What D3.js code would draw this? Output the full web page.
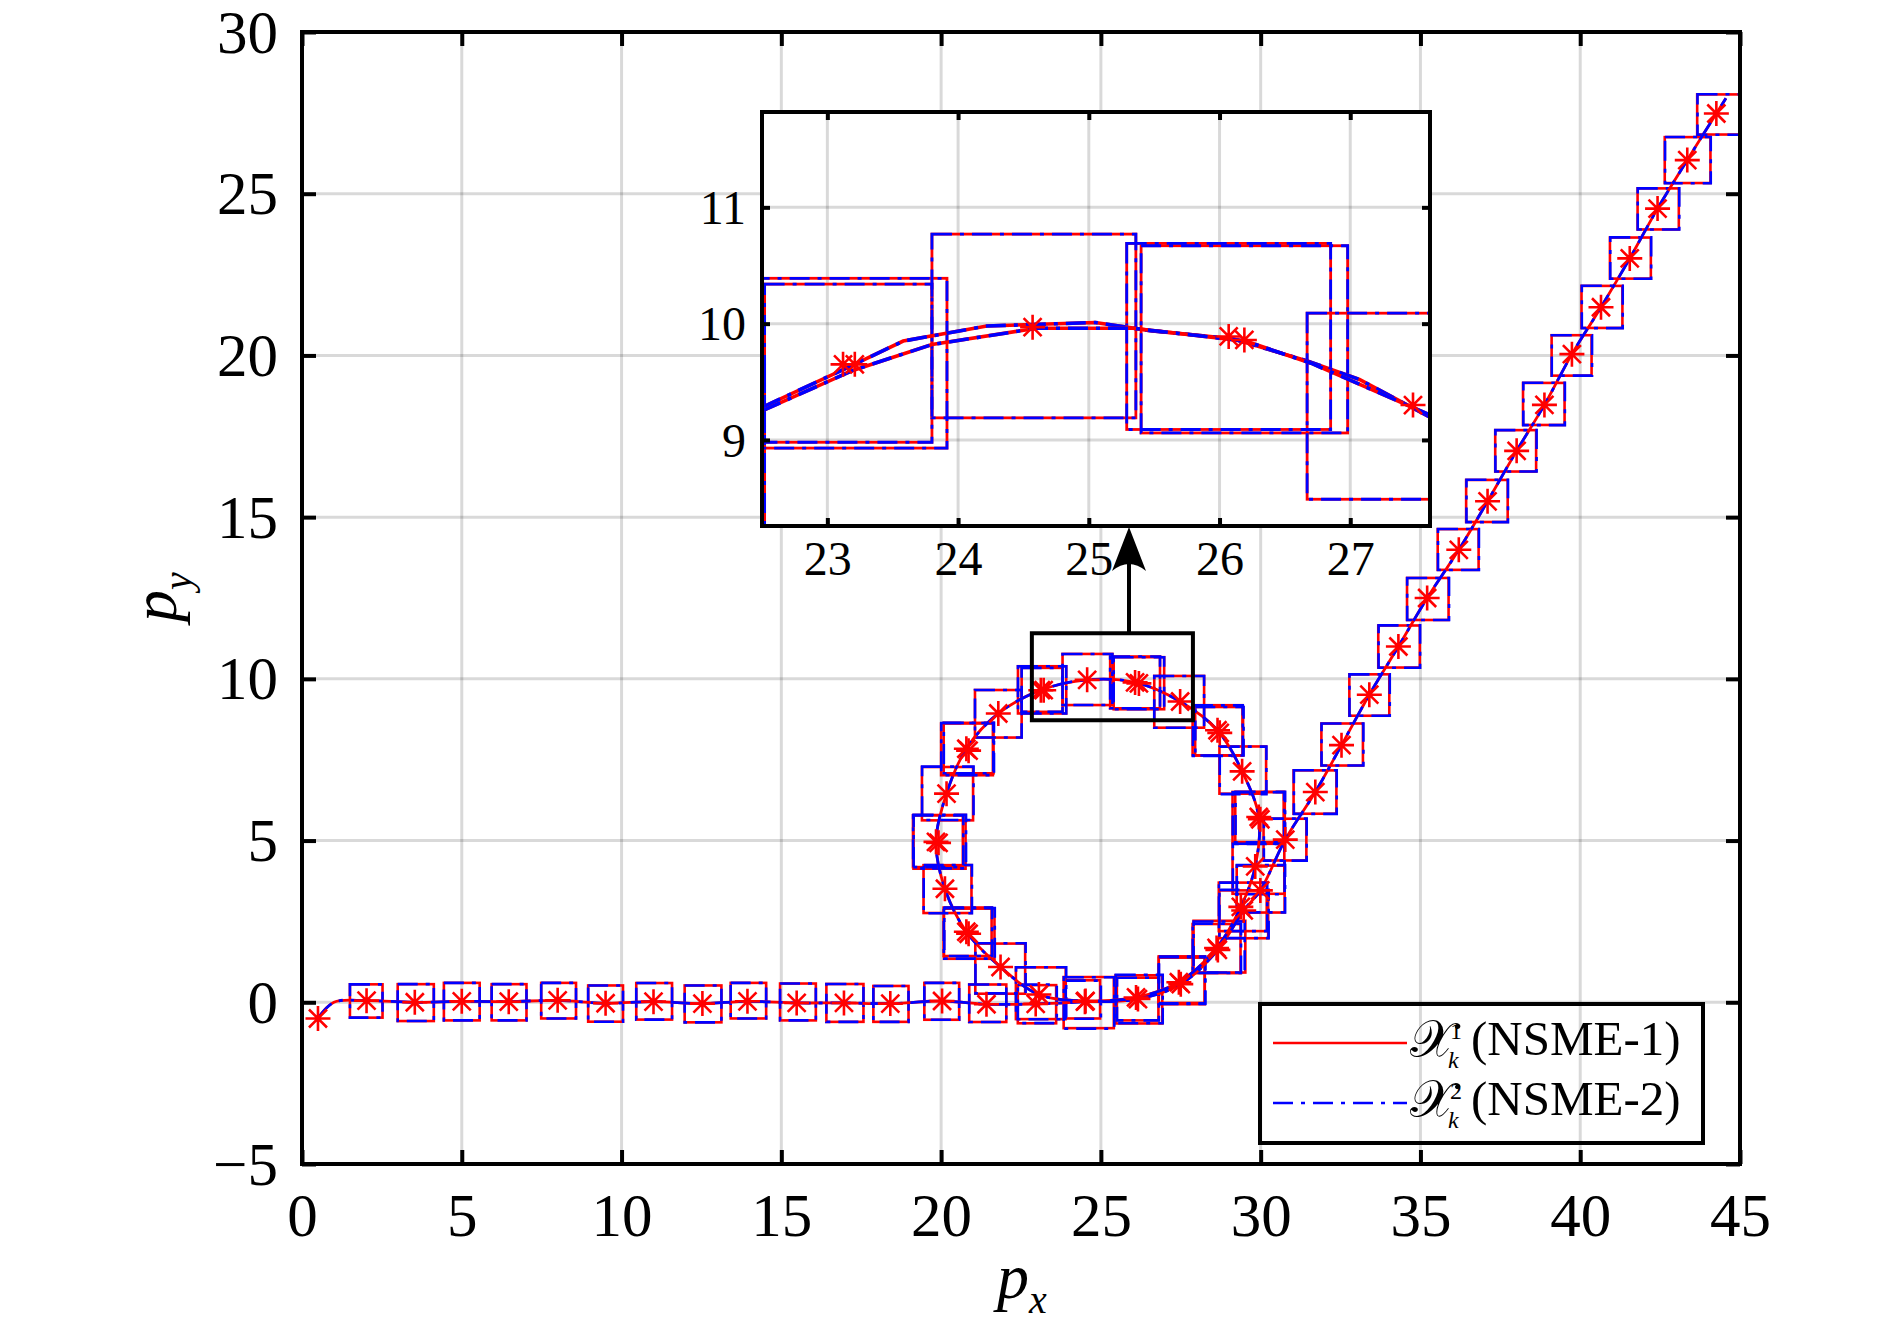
<!DOCTYPE html>
<html><head><meta charset="utf-8">
<script src="https://cdn.jsdelivr.net/npm/d3@7"></script>
<style>
body{margin:0;background:#fff}
svg{display:block}
text{font-family:"Liberation Serif","Times New Roman",serif;fill:#000}
</style>
</head><body>
<svg id="c" width="1890" height="1329"></svg>
<script>
// ---------------- DATA ----------------
const xTicks = [0,5,10,15,20,25,30,35,40,45];
const yTicks = [-5,0,5,10,15,20,25,30];
const insetXTicks = [23,24,25,26,27];
const insetYTicks = [9,10,11];
const insetXDomain = [22.5, 27.61];
const insetYDomain = [8.26, 11.82];
const zoomRect = [22.84, 27.88, 8.72, 11.41]; // xmin,xmax,ymin,ymax
const arrowX = 25.88;
const legendLabels = ["(NSME-1)", "(NSME-2)"];
const legendSup = ["1", "2"];

// marker (asterisk) positions
const starX = [0.50,2.02,3.53,5.00,6.47,8.00,9.50,11.00,12.53,13.94,15.48,16.96,18.41,20.03,21.42,22.96,
  24.50,26.10,27.44,28.62,29.38,29.83,29.94,29.42,28.65,27.48,26.07,24.57,23.12,21.79,20.79,20.17,19.84,20.12,20.79,21.86,23.06,
  24.52,26.16,27.50,28.66,29.47,29.99,
  30.77,31.71,32.53,33.40,34.31,35.21,36.20,37.10,38.01,38.88,39.74,40.65,41.55,42.42,43.35,44.26,
  23.21,26.19,28.72,20.86,19.92,20.86,29.99];
const starY = [-0.50,0.05,0.00,0.03,0.02,0.06,-0.03,0.02,-0.04,0.03,-0.02,-0.02,-0.04,0.04,-0.06,-0.05,
  0.02,0.15,0.62,1.68,2.95,4.20,5.73,7.14,8.41,9.30,9.89,9.97,9.65,8.93,7.84,6.45,4.96,3.51,2.18,1.09,0.24,
  0.04,0.10,0.56,1.62,2.84,3.46,
  5.03,6.50,7.95,9.51,11.00,12.50,13.99,15.49,17.05,18.47,20.04,21.49,23.00,24.54,26.04,27.48,
  9.65,9.86,8.33,7.78,4.93,2.12,5.66];

// set X^1 (NSME-1) boxes: [cx, cy, width, height]
const box1 = [null,
  [2.01,0.04,1.02,1.03],[3.56,-0.01,1.13,1.14],[5.00,0.02,1.12,1.16],[6.48,0.00,1.09,1.12],[8.03,0.05,1.09,1.10],
  [9.50,-0.04,1.09,1.12],[11.02,0.03,1.12,1.13],[12.55,-0.05,1.15,1.14],[13.97,0.05,1.11,1.10],[15.52,0.01,1.12,1.14],
  [16.99,-0.02,1.16,1.17],[18.43,-0.05,1.10,1.11],[20.02,0.03,1.09,1.14],[21.46,-0.03,1.16,1.16],[23.00,-0.06,1.20,1.18],
  [24.43,0.09,1.09,1.18],[26.15,0.10,1.30,1.32],[27.53,0.70,1.44,1.44],[28.71,1.72,1.62,1.60],[29.44,2.95,1.50,1.50],
  [29.93,4.13,1.62,1.55],[29.92,5.73,1.60,1.55],[29.44,7.18,1.46,1.46],[28.65,8.41,1.56,1.55],[27.45,9.29,1.56,1.60],
  [26.07,9.89,1.56,1.60],[24.58,9.98,1.56,1.58],[23.16,9.66,1.51,1.46],[21.79,8.92,1.46,1.47],[20.81,7.82,1.62,1.60],
  [20.20,6.45,1.60,1.65],[19.95,4.96,1.63,1.66],[20.20,3.50,1.50,1.48],[20.88,2.12,1.58,1.55],[21.85,1.04,1.56,1.55],
  [23.12,0.28,1.56,1.60],[24.62,-0.01,1.57,1.58],[26.19,0.09,1.46,1.49],[27.53,0.66,1.44,1.44],[28.62,1.66,1.50,1.52],
  [29.47,2.72,1.53,1.48],[30.00,3.50,1.50,1.45],[30.76,5.03,1.34,1.29],[31.70,6.50,1.34,1.34],[32.55,7.97,1.30,1.30],
  [33.40,9.50,1.25,1.28],[34.33,11.00,1.30,1.30],[35.23,12.47,1.30,1.30],[36.18,14.00,1.28,1.26],[37.08,15.50,1.30,1.30],
  [37.98,17.05,1.28,1.28],[38.86,18.50,1.30,1.30],[39.73,20.00,1.25,1.25],[40.68,21.50,1.28,1.30],[41.57,23.01,1.28,1.27],
  [42.44,24.53,1.29,1.27],[43.36,26.04,1.43,1.42],[44.36,27.45,1.40,1.24],
  [23.16,9.66,1.28,1.36],[26.19,9.865,1.58,1.61],[28.70,8.38,1.50,1.50],[20.86,7.86,1.56,1.56],[19.90,4.98,1.56,1.60],
  [20.83,2.18,1.50,1.50],[29.98,5.70,1.55,1.60]];

// set X^2 (NSME-2) boxes: [cx, cy, width, height]
const box2 = [null,
  [2.01,0.04,1.02,1.03],[3.56,-0.01,1.13,1.14],[5.00,0.02,1.12,1.16],[6.48,0.00,1.09,1.12],[8.03,0.05,1.09,1.10],
  [9.50,-0.04,1.09,1.12],[11.02,0.03,1.12,1.13],[12.55,-0.05,1.15,1.14],[13.97,0.05,1.11,1.10],[15.52,0.01,1.12,1.14],
  [16.99,-0.02,1.16,1.17],[18.43,-0.05,1.10,1.11],[20.02,0.03,1.09,1.14],[21.46,-0.03,1.16,1.16],[23.01,-0.05,1.22,1.19],
  [24.45,0.08,1.10,1.18],[26.16,0.10,1.31,1.32],[27.54,0.69,1.45,1.45],[28.70,1.71,1.60,1.58],[29.45,2.95,1.51,1.50],
  [29.94,4.12,1.62,1.56],[29.93,5.72,1.61,1.55],[29.45,7.17,1.46,1.47],[28.66,8.40,1.56,1.56],[27.45,9.29,1.56,1.60],
  [26.07,9.89,1.56,1.60],[24.58,9.98,1.56,1.58],[23.16,9.66,1.51,1.46],[21.79,8.92,1.46,1.47],[20.82,7.83,1.63,1.61],
  [20.21,6.46,1.61,1.65],[19.96,4.97,1.64,1.66],[20.21,3.50,1.51,1.49],[20.89,2.13,1.58,1.56],[21.86,1.05,1.57,1.55],
  [23.13,0.28,1.57,1.61],[24.63,-0.02,1.58,1.59],[26.20,0.10,1.47,1.50],[27.54,0.67,1.45,1.45],[28.63,1.67,1.51,1.52],
  [29.48,2.73,1.54,1.49],[30.01,3.51,1.51,1.46],[30.77,5.03,1.34,1.30],[31.71,6.50,1.34,1.35],[32.56,7.97,1.31,1.30],
  [33.41,9.50,1.26,1.28],[34.34,11.00,1.30,1.31],[35.24,12.47,1.31,1.30],[36.19,14.00,1.28,1.27],[37.09,15.50,1.30,1.31],
  [37.99,17.05,1.29,1.28],[38.87,18.50,1.30,1.31],[39.74,20.00,1.26,1.25],[40.69,21.50,1.28,1.31],[41.58,23.01,1.28,1.28],
  [42.45,24.53,1.30,1.27],[43.37,26.04,1.43,1.43],[44.37,27.45,1.40,1.25],
  [23.16,9.66,1.28,1.36],[26.19,9.865,1.58,1.61],[28.71,8.38,1.51,1.50],[20.87,7.86,1.57,1.56],[19.91,4.98,1.57,1.60],
  [20.84,2.18,1.51,1.50],[29.99,5.70,1.55,1.61]];

// trajectory vertices (main panel)
const pathX = [0.50,1.00,2.02,3.53,5.00,6.47,8.00,9.50,11.00,12.53,13.94,15.48,16.96,18.41,20.03,21.42,22.96,
  24.50,26.10,27.44,28.62,29.38,29.83,29.94,29.42,28.65,27.48,26.07,24.57,23.12,21.79,20.79,20.17,19.84,20.12,20.79,21.86,23.06,
  24.52,26.16,27.50,28.66,29.47,29.99,
  30.77,31.71,32.53,33.40,34.31,35.21,36.20,37.10,38.01,38.88,39.74,40.65,41.55,42.42,43.35,44.26,44.56];
const pathY = [-0.50,0.00,0.05,0.00,0.03,0.02,0.06,-0.03,0.02,-0.04,0.03,-0.02,-0.02,-0.04,0.04,-0.06,-0.05,
  0.02,0.15,0.62,1.68,2.95,4.20,5.73,7.14,8.41,9.30,9.89,9.97,9.65,8.93,7.84,6.45,4.96,3.51,2.18,1.09,0.24,
  0.04,0.10,0.56,1.62,2.84,3.46,
  5.03,6.50,7.95,9.51,11.00,12.50,13.99,15.49,17.05,18.47,20.04,21.49,23.00,24.54,26.04,27.48,27.95];

// trajectory polylines seen in the magnified inset
const insetLine1X = [22.50,23.15,23.58,24.22,25.05,25.47,26.10,26.67,27.07,27.62];
const insetLine1Y = [9.28,9.62,9.85,9.98,10.01,9.94,9.87,9.68,9.52,9.19];
const insetLine2X = [22.50,23.20,23.80,24.60,25.34,26.20,26.70,27.62];
const insetLine2Y = [9.25,9.60,9.82,9.96,9.96,9.85,9.66,9.21];

// ---------------- DRAWING ----------------
const RED = "#ff0000", BLUE = "#0000ff";
const DASHDOT = "20,8,4,8";
const svg = d3.select("#c");
const M = {l:302, r:1740, t:32, b:1164};
const I = {l:762, r:1430, t:112, b:526};
const x = d3.scaleLinear([0,45],[M.l,M.r]);
const y = d3.scaleLinear([-5,30],[M.b,M.t]);
const xi = d3.scaleLinear(insetXDomain,[I.l,I.r]);
const yi = d3.scaleLinear(insetYDomain,[I.b,I.t]);

const defs = svg.append("defs");
defs.append("clipPath").attr("id","clipMain").append("rect")
  .attr("x",M.l).attr("y",M.t).attr("width",M.r-M.l).attr("height",M.b-M.t);
defs.append("clipPath").attr("id","clipInset").append("rect")
  .attr("x",I.l).attr("y",I.t).attr("width",I.r-I.l).attr("height",I.b-I.t);

function grid(g, sx, sy, xt, yt){
  const [x0,x1] = sx.range(), [y0,y1] = sy.range();
  g.selectAll(".gx").data(xt).join("line")
    .attr("x1",d=>sx(d)).attr("x2",d=>sx(d)).attr("y1",y0).attr("y2",y1)
    .attr("stroke","#000").attr("stroke-opacity",0.15).attr("stroke-width",3);
  g.selectAll(".gy").data(yt).join("line")
    .attr("y1",d=>sy(d)).attr("y2",d=>sy(d)).attr("x1",x0).attr("x2",x1)
    .attr("stroke","#000").attr("stroke-opacity",0.15).attr("stroke-width",3);
}

const idx = d3.range(starX.length);
function drawBoxes(g, sx, sy, boxes, color, dash, sw){
  g.append("g").selectAll("rect").data(boxes.filter(b=>b)).join("rect")
    .attr("x",b=>sx(b[0]-b[2]/2)).attr("y",b=>sy(b[1]+b[3]/2))
    .attr("width",b=>sx(b[0]+b[2]/2)-sx(b[0]-b[2]/2))
    .attr("height",b=>sy(b[1]-b[3]/2)-sy(b[1]+b[3]/2))
    .attr("fill","none").attr("stroke",color).attr("stroke-width",sw)
    .attr("stroke-dasharray",dash);
}
function drawStars(g, sx, sy){
  const a = 12.5, d = 9;
  const p = `M${-a},0H${a}M0,${-a}V${a}M${-d},${-d}L${d},${d}M${-d},${d}L${d},${-d}`;
  g.append("g").selectAll("path").data(idx).join("path")
    .attr("transform",i=>`translate(${sx(starX[i])},${sy(starY[i])})`)
    .attr("d",p).attr("fill","none").attr("stroke",RED).attr("stroke-width",2.6);
}

// ---- main panel ----
grid(svg.append("g"), x, y, xTicks, yTicks);
const data = svg.append("g").attr("clip-path","url(#clipMain)");
drawBoxes(data, x, y, box1, RED, null, 2.6);
drawBoxes(data, x, y, box2, BLUE, DASHDOT, 2.6);
const pathIdx = d3.range(pathX.length);
const mainLine = d3.line().x(i=>x(pathX[i])).y(i=>y(pathY[i])).curve(d3.curveCatmullRom.alpha(0.5));
data.append("path").attr("d",mainLine(pathIdx)).attr("fill","none").attr("stroke",RED).attr("stroke-width",2.8);
data.append("path").attr("d",mainLine(pathIdx)).attr("fill","none").attr("stroke",BLUE).attr("stroke-width",2.8).attr("stroke-dasharray",DASHDOT);
drawStars(data, x, y);

// zoom rectangle
svg.append("rect").attr("x",x(zoomRect[0])).attr("y",y(zoomRect[3]))
  .attr("width",x(zoomRect[1])-x(zoomRect[0])).attr("height",y(zoomRect[2])-y(zoomRect[3]))
  .attr("fill","none").attr("stroke","#000").attr("stroke-width",4);

// axes main
function styleAxis(g){ g.select(".domain").remove(); g.selectAll(".tick line").attr("stroke","#000").attr("stroke-width",4); }
svg.append("g").attr("transform",`translate(0,${M.b})`)
  .call(d3.axisBottom(x).tickValues(xTicks).tickSize(-14).tickPadding(29).tickFormat(d3.format("d")))
  .call(styleAxis).call(g=>g.selectAll("text").attr("font-size",61));
svg.append("g").attr("transform",`translate(${M.l},0)`)
  .call(d3.axisLeft(y).tickValues(yTicks).tickSize(-14).tickPadding(24).tickFormat(d3.format("d")))
  .call(styleAxis).call(g=>g.selectAll("text").attr("font-size",61).attr("dy","0.33em"));
svg.append("g").attr("transform",`translate(0,${M.t})`)
  .call(d3.axisTop(x).tickValues(xTicks).tickSize(-14).tickFormat("")).call(styleAxis);
svg.append("g").attr("transform",`translate(${M.r},0)`)
  .call(d3.axisRight(y).tickValues(yTicks).tickSize(-14).tickFormat("")).call(styleAxis);
svg.append("rect").attr("x",M.l).attr("y",M.t).attr("width",M.r-M.l).attr("height",M.b-M.t)
  .attr("fill","none").attr("stroke","#000").attr("stroke-width",4);

// axis labels
const lx = svg.append("text").attr("x",997).attr("y",1298).attr("font-size",64).attr("font-style","italic");
lx.append("tspan").text("p");
lx.append("tspan").attr("dy",15).attr("font-size",40).text("x");
const ly = svg.append("text").attr("transform","translate(176,622) rotate(-90)").attr("font-size",64).attr("font-style","italic");
ly.append("tspan").text("p");
ly.append("tspan").attr("dy",15).attr("font-size",40).text("y");

// ---- inset ----
svg.append("rect").attr("x",I.l).attr("y",I.t).attr("width",I.r-I.l).attr("height",I.b-I.t).attr("fill","#fff");
grid(svg.append("g"), xi, yi, insetXTicks, insetYTicks);
const idata = svg.append("g").attr("clip-path","url(#clipInset)");
drawBoxes(idata, xi, yi, box1, RED, null, 2.8);
drawBoxes(idata, xi, yi, box2, BLUE, DASHDOT, 2.8);
function insetLine(g, X, Y){
  const ii = d3.range(X.length);
  const ln = d3.line().x(i=>xi(X[i])).y(i=>yi(Y[i]));
  g.append("path").attr("d",ln(ii)).attr("fill","none").attr("stroke",RED).attr("stroke-width",3.6);
  g.append("path").attr("d",ln(ii)).attr("fill","none").attr("stroke",BLUE).attr("stroke-width",3.6).attr("stroke-dasharray",DASHDOT);
}
insetLine(idata, insetLine1X, insetLine1Y);
insetLine(idata, insetLine2X, insetLine2Y);
drawStars(idata, xi, yi);

svg.append("g").attr("transform",`translate(0,${I.b})`)
  .call(d3.axisBottom(xi).tickValues(insetXTicks).tickSize(-8).tickPadding(15).tickFormat(d3.format("d")))
  .call(styleAxis).call(g=>g.selectAll("text").attr("font-size",48));
svg.append("g").attr("transform",`translate(${I.l},0)`)
  .call(d3.axisLeft(yi).tickValues(insetYTicks).tickSize(-8).tickPadding(16).tickFormat(d3.format("d")))
  .call(styleAxis).call(g=>g.selectAll("text").attr("font-size",48).attr("dy","0.34em"));
svg.append("g").attr("transform",`translate(0,${I.t})`)
  .call(d3.axisTop(xi).tickValues(insetXTicks).tickSize(-8).tickFormat("")).call(styleAxis);
svg.append("g").attr("transform",`translate(${I.r},0)`)
  .call(d3.axisRight(yi).tickValues(insetYTicks).tickSize(-8).tickFormat("")).call(styleAxis);
svg.append("rect").attr("x",I.l).attr("y",I.t).attr("width",I.r-I.l).attr("height",I.b-I.t)
  .attr("fill","none").attr("stroke","#000").attr("stroke-width",4);

// arrow
const ax = x(arrowX), tipY = I.b + 1;
svg.append("line").attr("x1",ax).attr("x2",ax).attr("y1",y(zoomRect[3])).attr("y2",tipY+30)
  .attr("stroke","#000").attr("stroke-width",4);
svg.append("path").attr("d",`M${ax},${tipY} L${ax-17},${tipY+44} Q${ax},${tipY+30} ${ax+17},${tipY+44} Z`).attr("fill","#000");

// ---- legend ----
const L = {x:1260, y:1004, w:443, h:139};
svg.append("rect").attr("x",L.x).attr("y",L.y).attr("width",L.w).attr("height",L.h)
  .attr("fill","none").attr("stroke","#000").attr("stroke-width",4);
const legRows = [{c:RED, dash:null, yy:1043}, {c:BLUE, dash:DASHDOT, yy:1103}];
legRows.forEach((r,k)=>{
  svg.append("line").attr("x1",1273).attr("x2",1407).attr("y1",r.yy).attr("y2",r.yy)
    .attr("stroke",r.c).attr("stroke-width",2.6).attr("stroke-dasharray",r.dash);
  const base = r.yy + 12;
  // one text element: script X with stacked superscript index and subscript k
  const t = svg.append("text").attr("x",1410).attr("y",base+2).attr("font-size",49);
  t.append("tspan").attr("font-family","'DejaVu Serif','DejaVu Sans',serif").attr("font-size",52).text("\u{1D4B3}");
  t.append("tspan").attr("x",1450).attr("y",base-16).attr("font-size",24).text(legendSup[k]);
  t.append("tspan").attr("x",1448).attr("y",base+13).attr("font-size",24).attr("font-style","italic").text("k");
  t.append("tspan").attr("x",1471).attr("y",base).attr("font-size",49).text(legendLabels[k]);
});
</script>
</body></html>
